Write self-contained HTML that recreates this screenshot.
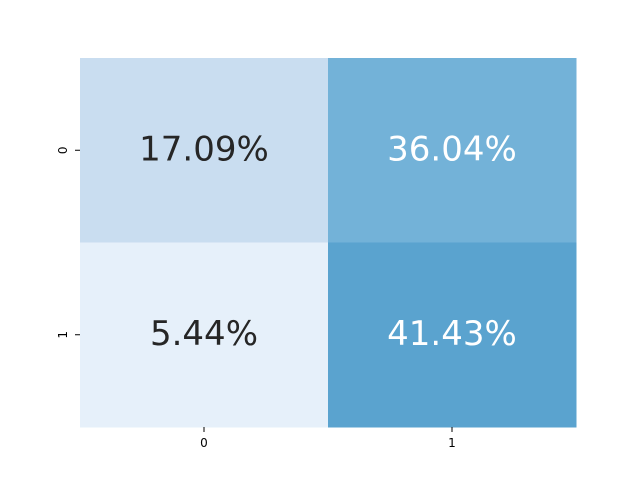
<!DOCTYPE html>
<html><head><meta charset="utf-8"><style>
body{margin:0;background:#fff;width:640px;height:480px;overflow:hidden}
svg{font-family:"DejaVu Sans","Liberation Sans",sans-serif}
</style></head><body>
<svg id="chart" width="640" height="480"></svg>
<script>
const rowLabels=["0","1"];
const colLabels=["0","1"];
const values=[[17.09,36.04],[5.44,41.43]];
const vmin=-1, vmax=76;
const stops=["#f7fbff","#deebf7","#c6dbef","#9ecae1","#6baed6","#4292c6","#2171b5","#08519c","#08306b"];
function hex(h){return [1,3,5].map(i=>parseInt(h.substr(i,2),16));}
function cmap(v){let t=Math.max(0,Math.min(1,(v-vmin)/(vmax-vmin)))*(stops.length-1);
 let i=Math.min(Math.floor(t),stops.length-2),f=t-i,a=hex(stops[i]),b=hex(stops[i+1]);
 return "rgb("+a.map((x,k)=>Math.round(x+(b[k]-x)*f)).join(",")+")";}
function lum(v){let t=(v-vmin)/(vmax-vmin);return t<0.4;}
const L=80,T=58,W=496,H=369;
const cw=W/colLabels.length, rh=H/rowLabels.length;
const xs=j=>L+j*cw, ys=i=>T+i*rh;
const svg=document.getElementById('chart');
const NS="http://www.w3.org/2000/svg";
function mk(tag,attrs,text){const e=document.createElementNS(NS,tag);for(const k in attrs)e.setAttribute(k,attrs[k]);if(text!==undefined)e.textContent=text;svg.appendChild(e);return e;}
values.forEach((row,i)=>row.forEach((v,j)=>{
 const r=mk('rect',{x:xs(j),y:ys(i),width:cw+0.5,height:rh+0.5,fill:cmap(v)});
 
 
 const t=mk('text',{x:xs(j)+cw/2,y:ys(i)+rh/2+10,'text-anchor':'middle','font-size':'34',fill:lum(v)?'#262626':'#ffffff'},v.toFixed(2)+'%');
 
 
}));
colLabels.forEach((c,j)=>{
 const x=xs(j)+cw/2;
 const l=mk('line',{x1:x,x2:x,y1:T+H,y2:T+H+5,stroke:'#000','stroke-width':1});
 
 
 const t=mk('text',{x:x,y:T+H+20,'text-anchor':'middle','font-size':'12',fill:'#000'},c);
 
 
});
rowLabels.forEach((r,i)=>{
 const y=ys(i)+rh/2;
 const l=mk('line',{x1:L-5,x2:L,y1:y,y2:y,stroke:'#000','stroke-width':1});
 
 
 const t=mk('text',{x:0,y:0,'text-anchor':'middle','font-size':'12',fill:'#000',transform:'translate('+(L-13)+','+y+') rotate(-90)'},r);
 
 
});
</script>
</body></html>
